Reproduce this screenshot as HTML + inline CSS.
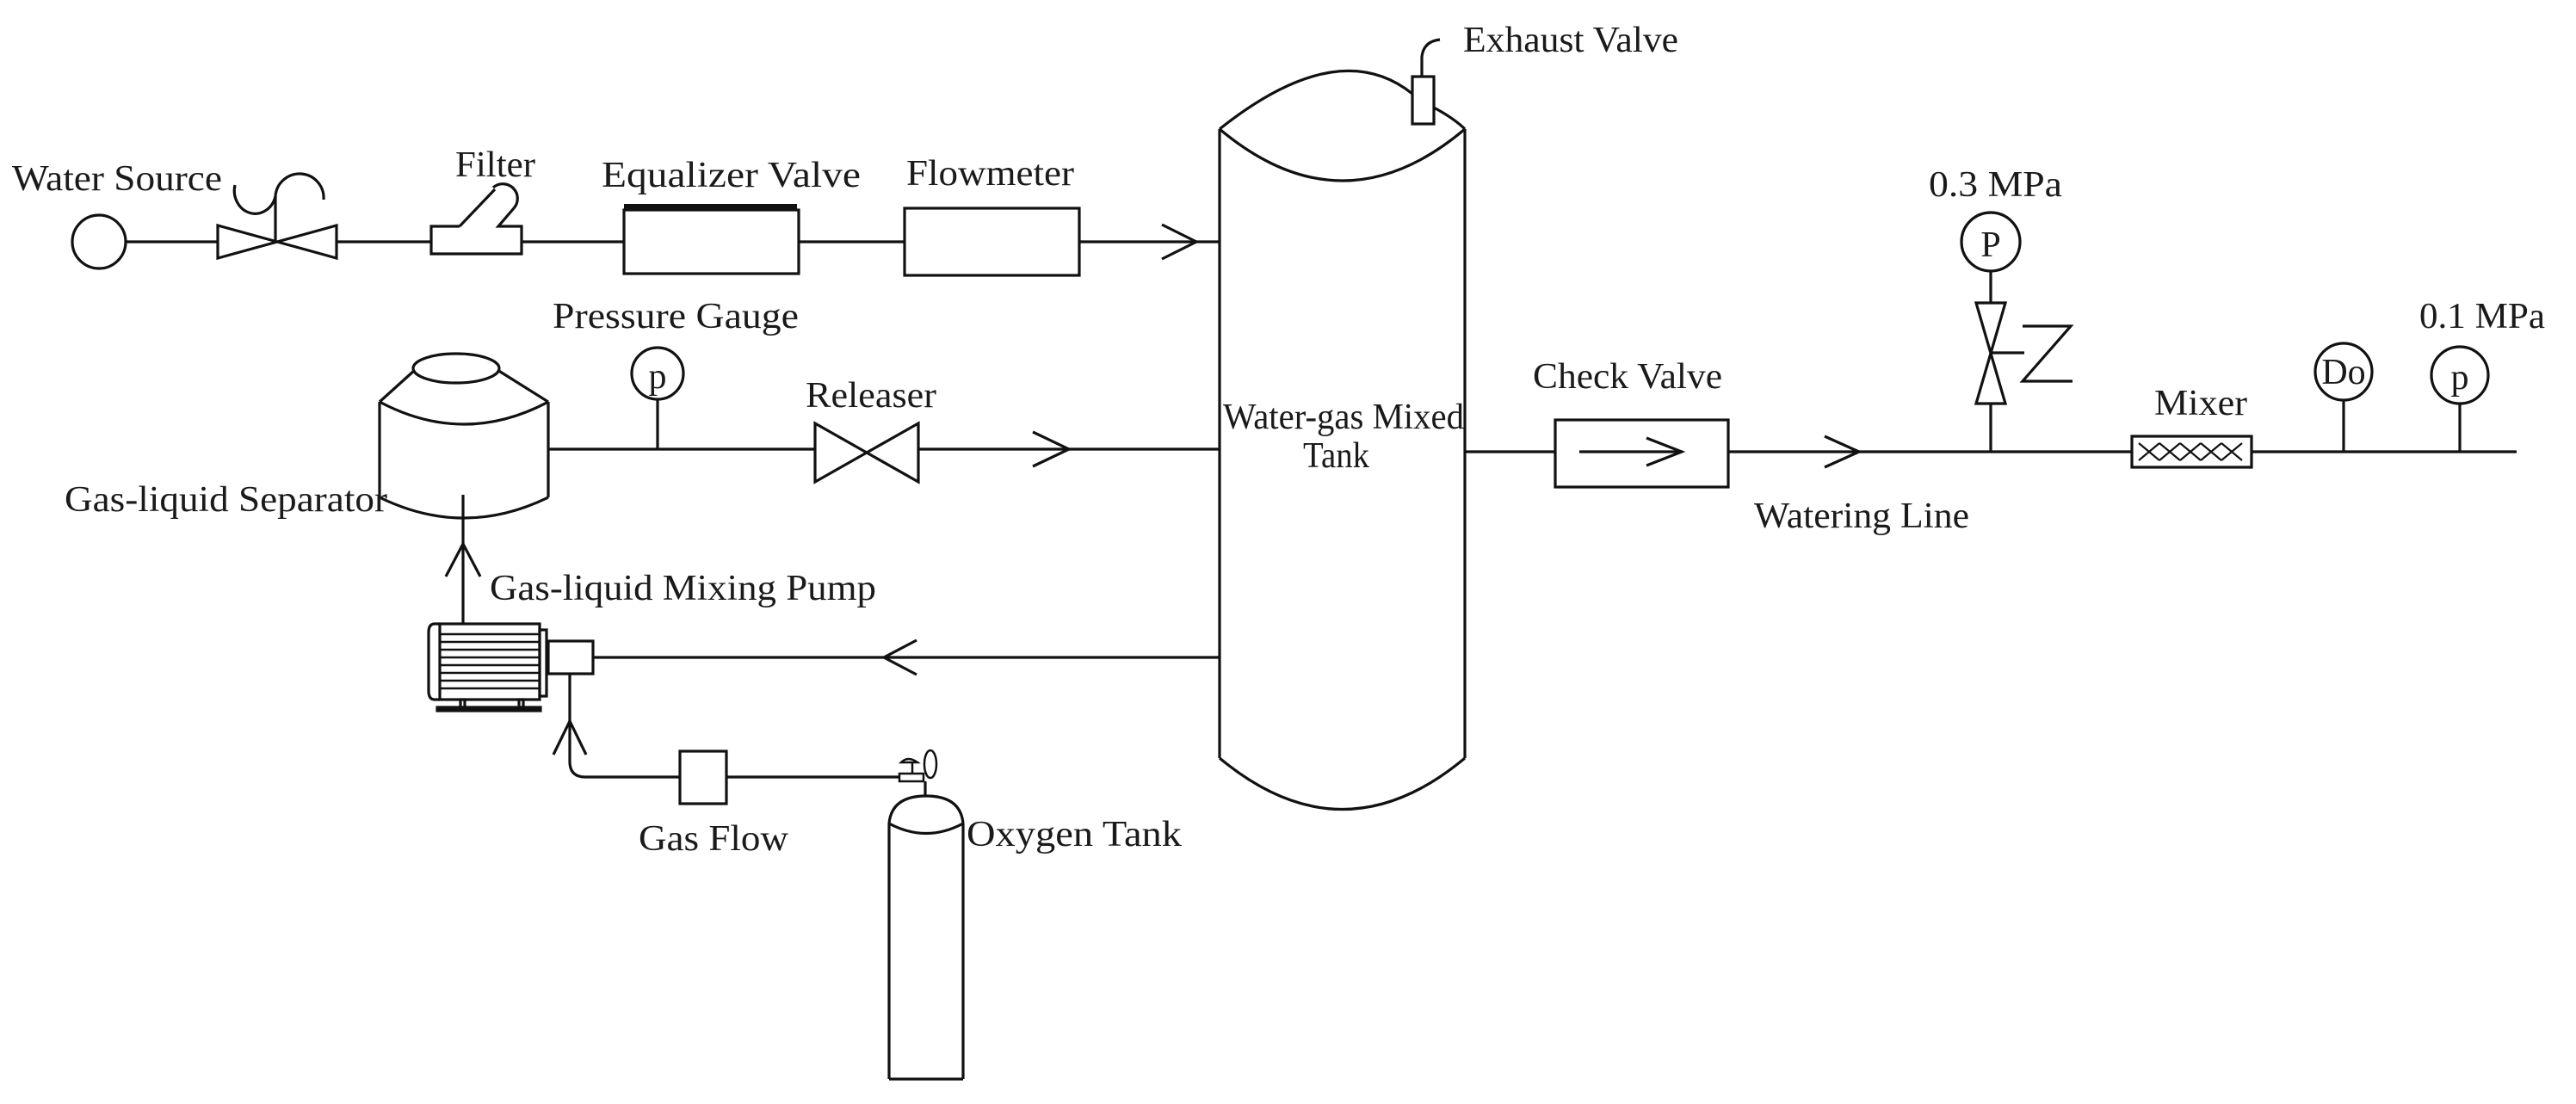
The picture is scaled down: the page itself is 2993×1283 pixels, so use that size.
<!DOCTYPE html>
<html><head><meta charset="utf-8"><style>
html,body{margin:0;padding:0;background:#fff;}
svg{display:block;}
text{font-family:"Liberation Serif",serif;font-size:42px;fill:#1a1a1a;}
</style></head><body>
<svg width="2993" height="1283" viewBox="0 0 2993 1283" xmlns="http://www.w3.org/2000/svg">
<rect width="2993" height="1283" fill="#fff"/>
<g fill="none" stroke="#111" stroke-width="3.2" stroke-linejoin="miter">
<circle cx="115" cy="281" r="31"/>
<line x1="146" y1="281" x2="253" y2="281"/>
<path d="M253,262 L253,300 L391,262 L391,300 Z"/>
<line x1="320" y1="281" x2="320" y2="228"/>
<path d="M273,215 A23.5,26 0 0 0 320,228"/>
<path d="M320,228 A28,28 0 0 1 376,232"/>
<line x1="391" y1="281" x2="501" y2="281"/>
<path d="M534,263 L501,263 L501,295 L606,295 L606,263 L579,263 L597,242"/>
<line x1="534" y1="263" x2="575" y2="220"/>
<path d="M573,218 A17,17 0 0 1 597,242"/>
<line x1="606" y1="281" x2="725" y2="281"/>
<rect x="725" y="244" width="203" height="74"/>
<line x1="725" y1="240" x2="926" y2="240" stroke-width="6"/>
<line x1="928" y1="281" x2="1051" y2="281"/>
<rect x="1051" y="242" width="203" height="78"/>
<line x1="1254" y1="281" x2="1417" y2="281"/>
<path d="M1350,261 L1390,281 L1350,301"/>
<line x1="1417" y1="150" x2="1417" y2="881"/>
<line x1="1702" y1="150" x2="1702" y2="881"/>
<path d="M1417,150 Q1555,40 1641,109"/>
<path d="M1666,125 Q1690,138 1702,150"/>
<path d="M1417,150 Q1560,270 1702,150"/>
<path d="M1417,881 Q1560,1000 1702,881"/>
<rect x="1641" y="89" width="25" height="55"/>
<path d="M1652,89 L1652,66 Q1654,48 1673,46"/>
<line x1="637" y1="522" x2="947" y2="522"/>
<line x1="764" y1="522" x2="764" y2="464"/>
<circle cx="764" cy="434" r="30"/>
<path d="M947,492 L947,560 L1067,492 L1067,560 Z"/>
<line x1="1067" y1="522" x2="1417" y2="522"/>
<path d="M1200,502 L1242,522 L1200,542"/>
<ellipse cx="530" cy="428" rx="50" ry="17"/>
<line x1="482" y1="430" x2="441" y2="467"/>
<line x1="578" y1="430" x2="637" y2="467"/>
<path d="M441,467 Q539,519 637,467"/>
<line x1="441" y1="467" x2="441" y2="578"/>
<line x1="637" y1="467" x2="637" y2="578"/>
<path d="M441,578 Q539,626 637,578"/>
<line x1="538" y1="575" x2="538" y2="725"/>
<path d="M518,670 L538,632 L558,670"/>
<path d="M511,725 L505,725 Q498,725 498,735 L498,803 Q498,813 505,813 L511,813"/>
<rect x="511" y="725" width="116" height="88"/>
<rect x="627" y="732" width="8" height="77"/>
<g stroke-width="2.6">
<line x1="511" y1="737" x2="627" y2="737"/><line x1="511" y1="746" x2="627" y2="746"/>
<line x1="511" y1="755" x2="627" y2="755"/><line x1="511" y1="764" x2="627" y2="764"/>
<line x1="511" y1="773" x2="627" y2="773"/><line x1="511" y1="782" x2="627" y2="782"/>
<line x1="511" y1="791" x2="627" y2="791"/><line x1="511" y1="800" x2="627" y2="800"/>
</g>
<rect x="535" y="813" width="5" height="9"/><rect x="603" y="813" width="5" height="9"/>
<rect x="508" y="822" width="120" height="4" fill="#111"/>
<rect x="637" y="745" width="52" height="38"/>
<line x1="689" y1="764" x2="1417" y2="764"/>
<path d="M1065,744 L1027,764 L1065,784"/>
<path d="M662,783 L662,885 Q662,903 680,903 L790,903"/>
<path d="M643,877 L662,838 L681,877"/>
<rect x="790" y="873" width="54" height="61"/>
<line x1="844" y1="903" x2="1045" y2="903"/>
<rect x="1045" y="899" width="28" height="9" stroke-width="2.5"/>
<line x1="1060" y1="899" x2="1060" y2="886" stroke-width="2.5"/>
<path d="M1047,886 Q1055,878 1066,886 Z" stroke-width="2.5"/>
<ellipse cx="1081" cy="888" rx="7" ry="16" stroke-width="2.5"/>
<line x1="1075" y1="908" x2="1075" y2="925"/>
<path d="M1033,957 Q1036,925 1076,925 Q1116,925 1119,957"/>
<path d="M1033,957 Q1076,980 1119,957"/>
<line x1="1033" y1="957" x2="1033" y2="1254"/>
<line x1="1119" y1="957" x2="1119" y2="1254"/>
<line x1="1033" y1="1254" x2="1119" y2="1254"/>
<line x1="1702" y1="525" x2="2924" y2="525"/>
<rect x="1807" y="488" width="201" height="78" fill="#fff"/>
<line x1="1835" y1="525" x2="1954" y2="525"/>
<path d="M1913,509 L1954,525 L1913,541"/>
<path d="M2120,507 L2160,525 L2120,543"/>
<circle cx="2313" cy="281" r="34"/>
<line x1="2313" y1="315" x2="2313" y2="352"/>
<path d="M2296,352 L2330,352 L2296,469 L2330,469 Z"/>
<line x1="2313" y1="469" x2="2313" y2="525"/>
<line x1="2313" y1="410" x2="2352" y2="410"/>
<path d="M2350,379 L2406,379 L2350,443 L2408,443"/>
<rect x="2477" y="507" width="139" height="36" fill="#fff"/>
<path d="M2485,515 Q2497,525 2509,535 M2485,535 Q2497,525 2509,515 M2509,515 Q2521,525 2533,535 M2509,535 Q2521,525 2533,515 M2533,515 Q2545,525 2557,535 M2533,535 Q2545,525 2557,515 M2557,515 Q2569,525 2581,535 M2557,535 Q2569,525 2581,515 M2581,515 Q2593,525 2605,535 M2581,535 Q2593,525 2605,515" stroke-width="2.2"/>
<ellipse cx="2723" cy="432" rx="33" ry="33"/>
<line x1="2723" y1="465" x2="2723" y2="525"/>
<circle cx="2858" cy="436" r="33"/>
<line x1="2858" y1="469" x2="2858" y2="525"/>
</g>
<text x="14" y="221" textLength="244" lengthAdjust="spacingAndGlyphs">Water Source</text>
<text x="529" y="205" textLength="93" lengthAdjust="spacingAndGlyphs">Filter</text>
<text x="699" y="217" textLength="301" lengthAdjust="spacingAndGlyphs">Equalizer Valve</text>
<text x="1053" y="215" textLength="195" lengthAdjust="spacingAndGlyphs">Flowmeter</text>
<text x="642" y="381" textLength="286" lengthAdjust="spacingAndGlyphs">Pressure Gauge</text>
<text x="764" y="451" font-size="54" text-anchor="middle">p</text>
<text x="936" y="473" textLength="152" lengthAdjust="spacingAndGlyphs">Releaser</text>
<text x="75" y="594" textLength="375" lengthAdjust="spacingAndGlyphs">Gas-liquid Separator</text>
<text x="569" y="697" textLength="449" lengthAdjust="spacingAndGlyphs">Gas-liquid Mixing Pump</text>
<text x="742" y="988" textLength="174" lengthAdjust="spacingAndGlyphs">Gas Flow</text>
<text x="1123" y="983" textLength="250" lengthAdjust="spacingAndGlyphs">Oxygen Tank</text>
<text x="1700" y="60" textLength="250" lengthAdjust="spacingAndGlyphs">Exhaust Valve</text>
<text x="1421" y="498" font-size="38" textLength="280" lengthAdjust="spacingAndGlyphs">Water-gas Mixed</text>
<text x="1514" y="543" font-size="38" textLength="77" lengthAdjust="spacingAndGlyphs">Tank</text>
<text x="1781" y="451" textLength="220" lengthAdjust="spacingAndGlyphs">Check Valve</text>
<text x="2038" y="613" textLength="250" lengthAdjust="spacingAndGlyphs">Watering Line</text>
<text x="2241" y="228" textLength="155" lengthAdjust="spacingAndGlyphs">0.3 MPa</text>
<text x="2313" y="298" font-size="48" text-anchor="middle">P</text>
<text x="2503" y="482" textLength="108" lengthAdjust="spacingAndGlyphs">Mixer</text>
<text x="2723" y="446" font-size="36" text-anchor="middle">Do</text>
<text x="2811" y="381" textLength="146" lengthAdjust="spacingAndGlyphs">0.1 MPa</text>
<text x="2858" y="452" font-size="54" text-anchor="middle">p</text>
</svg>
</body></html>
